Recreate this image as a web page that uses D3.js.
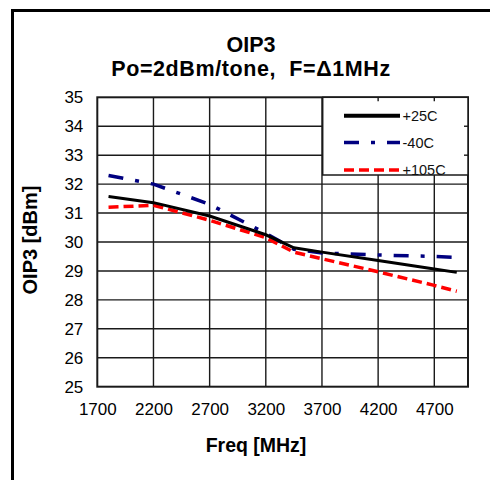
<!DOCTYPE html>
<html><head><meta charset="utf-8">
<script src="https://cdn.jsdelivr.net/npm/d3@7"></script>
<style>
html,body{margin:0;padding:0;background:#fff;}
text{font-family:"Liberation Sans",Arial,sans-serif;}
</style></head>
<body><svg id="c" width="490" height="480"></svg>
<script>
const freqs = [1800, 2200, 2700, 3200, 3450, 3700, 4200, 4700, 4900];
const t25   = [31.57, 31.36, 30.9, 30.25, 29.8, 29.65, 29.36, 29.07, 28.95];
const tm40  = [32.3, 32.0, 31.3, 30.3, 29.75, 29.62, 29.55, 29.5, 29.47];
const t105  = [31.2, 31.27, 30.75, 30.15, 29.65, 29.42, 28.97, 28.5, 28.3];
const xTicks = [1700, 2200, 2700, 3200, 3700, 4200, 4700];
const yTicks = [25, 26, 27, 28, 29, 30, 31, 32, 33, 34, 35];
const seriesNames = ["+25C", "-40C", "+105C"];

const svg = d3.select("#c");
const L = 97.3, R = 468, T = 97.3, B = 386.7;
const x = d3.scaleLinear().domain([1700, 5000]).range([L, R]);
const y = d3.scaleLinear().domain([25, 35]).range([B, T]);

// outer frame
svg.append("rect").attr("x", 12.5).attr("y", 10.5).attr("width", 490).attr("height", 490)
  .attr("fill", "#fff").attr("stroke", "#000").attr("stroke-width", 3);

// titles
svg.append("text").attr("x", 251).attr("y", 51.5).attr("text-anchor", "middle")
  .attr("font-size", 21.5).attr("font-weight", "bold").text("OIP3");
svg.append("text").attr("x", 251).attr("y", 76).attr("text-anchor", "middle")
  .attr("font-size", 21.5).attr("font-weight", "bold").attr("letter-spacing", 0.6)
  .attr("xml:space", "preserve")
  .text("Po=2dBm/tone,  F=\u03941MHz");

// gridlines
const g = svg.append("g");
g.selectAll(".gx").data(xTicks.slice(1)).enter().append("line")
  .attr("x1", d => x(d)).attr("x2", d => x(d)).attr("y1", T).attr("y2", B)
  .attr("stroke", "#1a1a1a").attr("stroke-width", 1.4);
g.selectAll(".gy").data(yTicks.slice(1, -1)).enter().append("line")
  .attr("y1", d => y(d)).attr("y2", d => y(d)).attr("x1", L).attr("x2", R)
  .attr("stroke", "#1a1a1a").attr("stroke-width", 1.4);

// axes labels using d3 axes
const xAxis = d3.axisBottom(x).tickValues(xTicks).tickSize(0).tickPadding(16).tickFormat(d3.format("d"));
const gx = svg.append("g").attr("transform", `translate(0,${B})`).call(xAxis);
gx.select(".domain").remove();
gx.selectAll("text").attr("font-size", 17).attr("fill", "#000").attr("font-family", "Liberation Sans, Arial");

const yAxis = d3.axisLeft(y).tickValues(yTicks).tickSize(0).tickPadding(14).tickFormat(d3.format("d"));
const gy = svg.append("g").attr("transform", `translate(${L},0)`).call(yAxis);
gy.select(".domain").remove();
gy.selectAll("text").attr("font-size", 17).attr("fill", "#000").attr("font-family", "Liberation Sans, Arial");

// axis titles
svg.append("text").attr("x", 256).attr("y", 452).attr("text-anchor", "middle")
  .attr("font-size", 19.5).attr("font-weight", "bold").text("Freq [MHz]");
svg.append("text").attr("transform", "translate(37,240) rotate(-90)").attr("text-anchor", "middle")
  .attr("font-size", 20).attr("font-weight", "bold").text("OIP3 [dBm]");

// series
const series = [
  {name: seriesNames[0], vals: t25, color: "#000", w: 3, dash: null},
  {name: seriesNames[1], vals: tm40, color: "#000080", w: 3.5, dash: "15,12,4,12"},
  {name: seriesNames[2], vals: t105, color: "#ff0000", w: 3.5, dash: "10,5"}
];
const line = d3.line().x(d => x(d[0])).y(d => y(d[1]));
svg.append("clipPath").attr("id", "pc").append("rect")
  .attr("x", L).attr("y", T).attr("width", R - L).attr("height", B - T);
const draw = [series[2], series[1], series[0]];
draw.forEach(s => {
  svg.append("path").datum(freqs.map((f, i) => [f, s.vals[i]]))
    .attr("d", line).attr("fill", "none").attr("stroke", s.color)
    .attr("stroke-width", s.w).attr("stroke-dasharray", s.dash)
    .attr("clip-path", "url(#pc)");
});

// plot border
svg.append("rect").attr("x", L).attr("y", T).attr("width", R - L).attr("height", B - T)
  .attr("fill", "none").attr("stroke", "#1a1a1a").attr("stroke-width", 2);

// legend
const lg = svg.append("g");
lg.append("rect").attr("x", 322.7).attr("y", T).attr("width", R - 322.7).attr("height", 175 - T)
  .attr("fill", "#fff").attr("stroke", "#1a1a1a").attr("stroke-width", 1.5);
xTicks.filter(d => x(d) > 323).forEach(d => {
  lg.append("line").attr("x1", x(d)).attr("x2", x(d)).attr("y1", T).attr("y2", T + 4)
    .attr("stroke", "#1a1a1a").attr("stroke-width", 1.4);
});
yTicks.filter(d => y(d) > T + 2 && y(d) < 175).forEach(d => {
  lg.append("line").attr("x1", R - 4).attr("x2", R).attr("y1", y(d)).attr("y2", y(d))
    .attr("stroke", "#1a1a1a").attr("stroke-width", 1.4);
});
const rowsY = [115.7, 142.5, 170];
series.forEach((s, i) => {
  lg.append("line").attr("x1", 344).attr("x2", 400).attr("y1", rowsY[i]).attr("y2", rowsY[i])
    .attr("stroke", s.color).attr("stroke-width", i === 0 ? 4 : 3.5)
    .attr("stroke-dasharray", s.dash);
  lg.append("text").attr("x", 402.5).attr("y", rowsY[i] + 5)
    .attr("font-size", 14.5).attr("fill", "#111").text(s.name);
});
</script></body></html>
